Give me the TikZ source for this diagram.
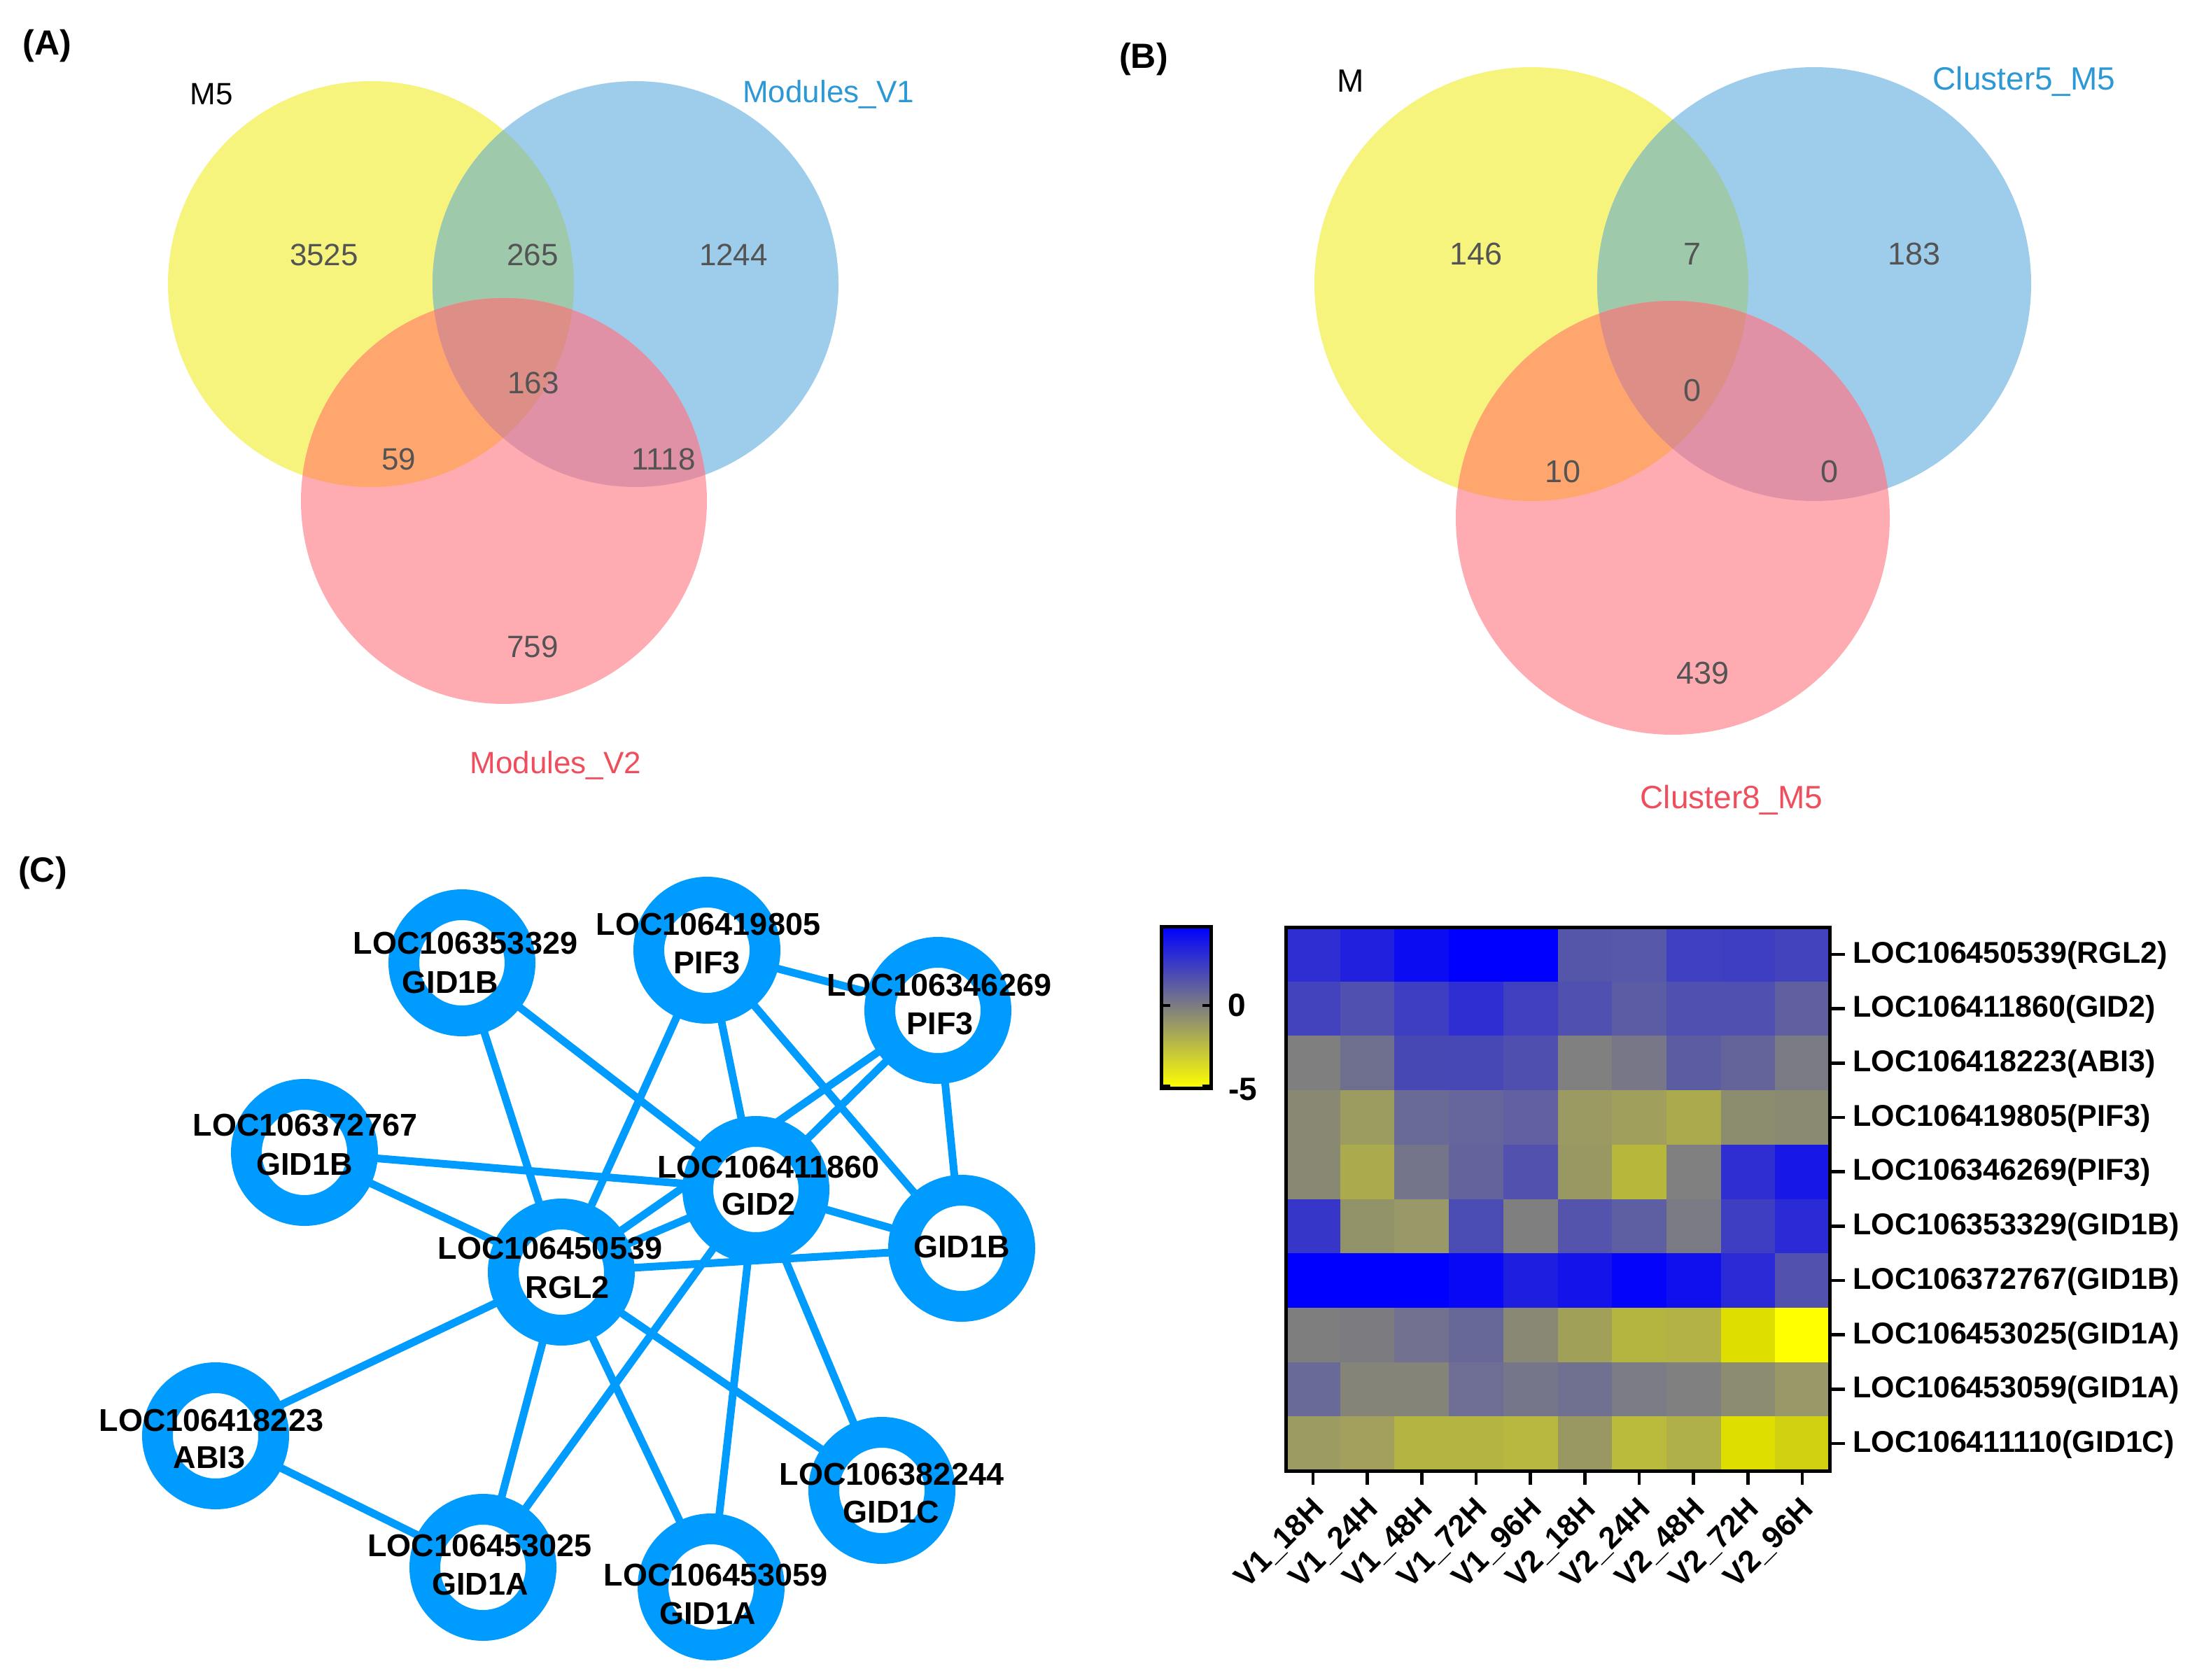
\documentclass[tikz,border=0pt]{standalone}
\usepackage{fontspec}
\setmainfont{Liberation Sans}
\usetikzlibrary{backgrounds}
\pgfdeclarelayer{bgw}
\pgfdeclarelayer{edgelayer}
\pgfsetlayers{bgw,edgelayer,main}
\definecolor{vY}{HTML}{F7F47E}
\definecolor{vB}{HTML}{9DCDEA}
\definecolor{vP}{HTML}{FEABB1}
\definecolor{vYB}{HTML}{9EC9AB}
\definecolor{vYP}{HTML}{FEA66D}
\definecolor{vBP}{HTML}{E091A5}
\definecolor{vYBP}{HTML}{DD8E86}
\definecolor{numgrey}{HTML}{545454}
\definecolor{lblblue}{HTML}{2C98D4}
\definecolor{lblred}{HTML}{EF4E5C}
\definecolor{netblue}{HTML}{009BFF}
\definecolor{cbgrey}{HTML}{808080}
\begin{document}
\begin{tikzpicture}[x=1pt,y=-1pt,
  vnumA/.style={text=numgrey,font=\fontsize{22}{26}\selectfont,inner sep=0},
  vnumB/.style={text=numgrey,font=\fontsize{22.5}{27}\selectfont,inner sep=0},
  vlblA/.style={font=\fontsize{22}{26}\selectfont,inner sep=0},
  vlblB/.style={font=\fontsize{23}{27}\selectfont,inner sep=0},
  panel/.style={font=\bfseries\fontsize{25}{30}\selectfont,inner sep=0},
  ring/.style={circle,draw=netblue,line width=22pt,fill=white,minimum size=83pt,inner sep=0},
  edge/.style={draw=netblue,line width=5.5pt},
  nlbl/.style={font=\bfseries\fontsize{22.5}{26}\selectfont,inner sep=0},
  rowlbl/.style={font=\bfseries\fontsize{21.5}{26}\selectfont,anchor=west,inner sep=0},
  collbl/.style={font=\bfseries\fontsize{22}{26}\selectfont,anchor=north east,rotate=45,inner sep=0},
  tickline/.style={line width=2.3pt},
  cblbl/.style={font=\bfseries\fontsize{23}{27}\selectfont,inner sep=0}
]
\begin{pgfonlayer}{bgw}
\fill[white] (0,0) rectangle (1569.5,1200.5);
\end{pgfonlayer}
\useasboundingbox (0,0) rectangle (1569.5,1200.5);

% ---------------- Venn A ----------------
\fill[vY] (265,203) circle[radius=145pt];
\fill[vB] (454,203) circle[radius=145pt];
\begin{scope}\clip (265,203) circle[radius=145pt]; \fill[vYB] (454,203) circle[radius=145pt];\end{scope}
\fill[vP] (360,358) circle[radius=145pt];
\begin{scope}\clip (265,203) circle[radius=145pt]; \fill[vYP] (360,358) circle[radius=145pt];\end{scope}
\begin{scope}\clip (454,203) circle[radius=145pt]; \fill[vBP] (360,358) circle[radius=145pt];\end{scope}
\begin{scope}\clip (265,203) circle[radius=145pt]; \clip (454,203) circle[radius=145pt]; \fill[vYBP] (360,358) circle[radius=145pt];\end{scope}

\node[panel] (pA) at (33.7,32.7) {(A)};
\node[vlblA] (lM5) at (151,67.3) {M5};
\node[vlblA,text=lblblue] (lMV1) at (591.8,67.3) {Modules\_V1};
\node[vlblA,text=lblred] (lMV2) at (397,547) {Modules\_V2};
\node[vnumA] (a1) at (231.5,182) {3525};
\node[vnumA] (a2) at (380.5,182) {265};
\node[vnumA] (a3) at (524,182) {1244};
\node[vnumA] (a4) at (381,273.5) {163};
\node[vnumA] (a5) at (285,328) {59};
\node[vnumA] (a6) at (474,328) {1118};
\node[vnumA] (a7) at (380.5,462) {759};

% ---------------- Venn B ----------------
\fill[vY] (1094,203) circle[radius=155pt];
\fill[vB] (1296,203) circle[radius=155pt];
\begin{scope}\clip (1094,203) circle[radius=155pt]; \fill[vYB] (1296,203) circle[radius=155pt];\end{scope}
\fill[vP] (1195,370) circle[radius=155pt];
\begin{scope}\clip (1094,203) circle[radius=155pt]; \fill[vYP] (1195,370) circle[radius=155pt];\end{scope}
\begin{scope}\clip (1296,203) circle[radius=155pt]; \fill[vBP] (1195,370) circle[radius=155pt];\end{scope}
\begin{scope}\clip (1094,203) circle[radius=155pt]; \clip (1296,203) circle[radius=155pt]; \fill[vYBP] (1195,370) circle[radius=155pt];\end{scope}

\node[panel] (pB) at (817,42.3) {(B)};
\node[vlblB] (lM) at (965,58) {M};
\node[vlblB,text=lblblue] (lC5) at (1446,58) {Cluster5\_M5};
\node[vlblB,text=lblred] (lC8) at (1237,571.5) {Cluster8\_M5};
\node[vnumB] (b1) at (1054.6,181.5) {146};
\node[vnumB] (b2) at (1209,181.5) {7};
\node[vnumB] (b3) at (1367.5,181.5) {183};
\node[vnumB] (b4) at (1209,279) {0};
\node[vnumB] (b5) at (1116.5,337) {10};
\node[vnumB] (b6) at (1307,337) {0};
\node[vnumB] (b7) at (1216.7,480.8) {439};

% ---------------- Network C ----------------
\node[panel] (pC) at (30.5,624) {(C)};
\node[ring] (n353) at (330,688) {};
\node[ring] (n419) at (505,679) {};
\node[ring] (n346) at (670,722) {};
\node[ring] (n372) at (217.5,823.5) {};
\node[ring] (gid2) at (540,850) {};
\node[ring] (gid1b) at (687,892) {};
\node[ring] (rgl2) at (401,909) {};
\node[ring] (abi3) at (154,1026) {};
\node[ring] (n025) at (345,1120) {};
\node[ring] (n059) at (508,1134) {};
\node[ring] (n382) at (630,1065) {};

\begin{pgfonlayer}{edgelayer}
\foreach \a/\b in {n353/rgl2,n353/gid2,n419/rgl2,n419/gid2,n419/gid1b,n419/n346,
  n346/gid2,n346/rgl2,n346/gid1b,n372/gid2,n372/rgl2,rgl2/gid2,gid2/gid1b,
  rgl2/gid1b,rgl2/abi3,rgl2/n382,rgl2/n025,rgl2/n059,gid2/n025,gid2/n059,
  gid2/n382,abi3/n025}
  \draw[edge] (\a.center) -- (\b.center);
\end{pgfonlayer}

\node[nlbl] (t353a) at (332.5,674) {LOC106353329};
\node[nlbl] (t353b) at (321.7,702) {GID1B};
\node[nlbl] (t419a) at (506,660.6) {LOC106419805};
\node[nlbl] (t419b) at (505,688) {PIF3};
\node[nlbl] (t346a) at (671,704) {LOC106346269};
\node[nlbl] (t346b) at (671.7,731.5) {PIF3};
\node[nlbl] (t372a) at (218,804) {LOC106372767};
\node[nlbl] (t372b) at (217.6,832) {GID1B};
\node[nlbl] (tg2a) at (549,834) {LOC106411860};
\node[nlbl] (tg2b) at (542,860.6) {GID2};
\node[nlbl] (tg1b) at (687,891) {GID1B};
\node[nlbl] (trga) at (393,892) {LOC106450539};
\node[nlbl] (trgb) at (405.5,920) {RGL2};
\node[nlbl] (tabia) at (151,1015) {LOC106418223};
\node[nlbl] (tabib) at (149.6,1041.7) {ABI3};
\node[nlbl] (t025a) at (342.6,1104.6) {LOC106453025};
\node[nlbl] (t025b) at (343,1132) {GID1A};
\node[nlbl] (t059a) at (511.4,1125.5) {LOC106453059};
\node[nlbl] (t059b) at (505.5,1153) {GID1A};
\node[nlbl] (t382a) at (637,1053.7) {LOC106382244};
\node[nlbl] (t382b) at (636.7,1080.6) {GID1C};

% ---------------- Heatmap ----------------
\foreach \r/\cl in {
 0/{2E2ED2,2020DE,0C0CF2,0000FF,0000FF,5555AA,5858AA,3F3FC2,3E3EC3,4343BE},
 1/{4343BE,5050B0,3E3EC2,2E2ED2,3F3FC0,5050B0,5C5CA5,5050B0,5050B0,6060A0},
 2/{7F7F80,6E6E8E,4848B4,4747B6,4F4FAF,808080,777788,5C5CA2,64649A,7A7A84},
 3/{888873,9C9C60,6A6A96,66669C,6060A2,9A9A62,A0A05C,AAAA4C,8C8C6E,8A8A72},
 4/{888873,ABAB4E,74748A,64649C,5252AE,989862,B7B73C,808080,2E2ED2,1818E6},
 5/{3636C8,929268,989868,4B4BB4,7F7F80,5454AC,5E5EA2,7A7A84,3E3EC2,2A2AD6},
 6/{0000FF,0000FF,0000FF,0808F6,1E1EE0,1414EA,0404FA,1010EE,2A2AD6,5252AE},
 7/{7E7E7E,7C7C80,727290,686898,888874,A0A058,B4B440,B2B246,DEDE00,FFFF00},
 8/{6A6A98,848478,848478,6E6E94,76768A,707090,7C7C86,808080,8C8C70,989868},
 9/{9C9C62,A2A05C,B4B442,B4B442,B8B840,9A9862,BABA3C,B0B04A,DEDE00,D0D010}}
{
  \foreach \c [count=\i from 0] in \cl {
    \edef\tmpdef{\noexpand\definecolor{cellc}{HTML}{\c}}\tmpdef
    \fill[cellc] (918.5+38.85*\i,662.5+38.85*\r) rectangle ++(39.0,39.0);
  }
}
\draw[line width=2.5pt] (918.5,662.5) rectangle (1307,1051);

\foreach \t [count=\j from 0] in {LOC106450539(RGL2),LOC106411860(GID2),LOC106418223(ABI3),
  LOC106419805(PIF3),LOC106346269(PIF3),LOC106353329(GID1B),LOC106372767(GID1B),
  LOC106453025(GID1A),LOC106453059(GID1A),LOC106411110(GID1C)}
{
  \draw[tickline] (1307,681.9+38.85*\j) -- (1318,681.9+38.85*\j);
  \node[rowlbl] (row\j) at (1323.5,682.5+38.85*\j) {\t};
}

\foreach \t [count=\i from 0] in {V1\_18H,V1\_24H,V1\_48H,V1\_72H,V1\_96H,V2\_18H,V2\_24H,V2\_48H,V2\_72H,V2\_96H}
{
  \draw[tickline] (937.9+38.85*\i,1051) -- (937.9+38.85*\i,1061);
  \node[collbl] (col\i) at (936+38.85*\i,1068.5) {\t};
}

% colour bar
\shade[top color=blue,middle color=cbgrey,bottom color=yellow] (829.7,662.2) rectangle (865.3,777.8);
\draw[line width=2.4pt] (829.7,662.2) rectangle (865.3,777.8);
\draw[tickline] (829.7,718.5) -- (836,718.5);
\draw[tickline] (865.3,718.5) -- (859,718.5);
\draw[tickline] (829.7,776) -- (836,776);
\draw[tickline] (865.3,776) -- (859,776);
\node[cblbl] (cb0) at (883.5,718.5) {0};
\node[cblbl] (cb5) at (888,778.5) {-5};
\end{tikzpicture}
\end{document}
